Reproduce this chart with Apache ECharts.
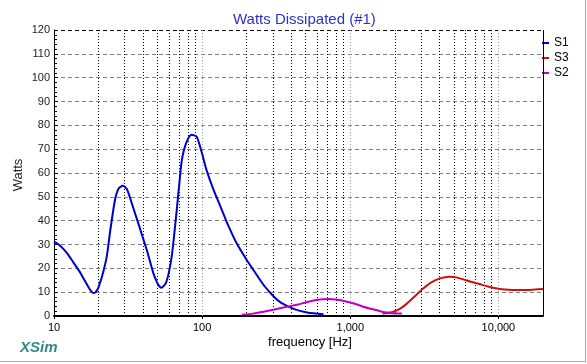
<!DOCTYPE html>
<html>
<head>
<meta charset="utf-8">
<script src="https://cdn.jsdelivr.net/npm/echarts@6/dist/echarts.min.js"></script>
<style>
html,body{margin:0;padding:0;background:#fff;}
#chart{width:587px;height:364px;}
</style>
</head>
<body>
<div id="chart"></div>
<script>
// ---- data ----
const s1Freq  = [10, 11, 12.2, 13.5, 15, 16, 17, 17.8, 18.4, 19.0, 19.7, 20.4, 21.5, 22.7, 24, 25.8, 27.3, 29.1, 31, 33.5, 42.3, 46.9, 49.5, 51.5, 52.8, 54.2, 55.6, 57.1, 59.5, 62.3, 64.5, 67.4, 70, 73, 78, 85, 91.9, 99, 107, 118, 133, 150, 171, 200, 222, 260, 303, 340, 415, 512, 660];
const s1Watts = [31.2, 29.5, 26.5, 22.5, 18.3, 15.2, 12.4, 10.4, 9.7, 9.9, 11.2, 13.7, 18.5, 24.9, 36, 48.7, 53.5, 54.6, 53.3, 47.3, 27.7, 17.9, 14.2, 12.4, 11.9, 12.2, 12.9, 14.0, 18, 24.9, 33, 44.5, 55, 65.5, 72.5, 76, 75.2, 69, 61.3, 53.8, 45.9, 38, 30.5, 23.5, 19.3, 13, 8.3, 5.6, 3.0, 1.5, 0.7];

const s3Freq  = [1650, 1960, 2200, 2420, 2750, 3120, 3500, 4020, 4690, 5200, 5760, 6500, 7440, 8500, 9600, 11000, 12400, 15000, 17500, 20000];
const s3Watts = [1.0, 1.8, 3.3, 5.3, 8.5, 11.6, 14.0, 15.8, 16.5, 16.2, 15.4, 14.4, 13.4, 12.4, 11.6, 11.1, 10.9, 10.9, 11.1, 11.3];

const s2Freq  = [185, 220, 260, 303, 360, 436, 500, 567, 650, 714, 800, 949, 1100, 1224, 1400, 1594, 1750, 1910, 2230];
const s2Watts = [0.5, 1.0, 1.8, 2.6, 3.7, 4.7, 5.7, 6.5, 7.0, 7.1, 6.9, 6.0, 4.9, 3.9, 2.9, 2.0, 1.5, 1.2, 1.1];

const seriesNames = ['S1', 'S3', 'S2'];
const seriesColors = ['#0000c8', '#d01010', '#c000c0'];

const xTickValues = [10, 100, 1000, 10000];
const decadeLines = [100, 1000, 10000];
const minorLines = [20,30,40,50,60,70,80,90, 200,300,400,500,600,700,800,900, 2000,3000,4000,5000,6000,7000,8000,9000, 20000];

const titleText = 'Watts Dissipated (#1)';
const yName = 'Watts';
const xName = 'frequency [Hz]';

// ---- chart ----
const FONT = 'Liberation Sans, Arial, sans-serif';
const pairs = (xs, ys) => xs.map((x, i) => [x, ys[i]]);

const gridColors = [];
for (let i = 0; i < 12; i++) gridColors.push('#808080');
gridColors.push('#000000');

const markData = [];
minorLines.forEach(v => markData.push({xAxis: v, lineStyle: {color: '#000', type: [1, 2], width: 1}}));
decadeLines.forEach(v => markData.push({xAxis: v, lineStyle: {color: '#9a9a9a', type: [1, 2], width: 1}}));

const lineSeries = (i, xs, ys) => ({
  name: seriesNames[i], type: 'line', data: pairs(xs, ys),
  smooth: 0.25, showSymbol: false,
  color: seriesColors[i], lineStyle: {width: 2, color: seriesColors[i]}, z: 5
});

const chart = echarts.init(document.getElementById('chart'), null, {renderer: 'canvas'});
chart.setOption({
  backgroundColor: '#ffffff',
  animation: false,
  title: {
    text: titleText,
    left: 228, top: 7,
    textStyle: {color: '#3030c8', fontSize: 15, fontWeight: 'normal', fontFamily: FONT}
  },
  legend: {
    data: seriesNames,
    orient: 'vertical',
    left: 542, top: 37,
    itemWidth: 7, itemHeight: 2, itemGap: 3, itemTextGap: 3,
    icon: 'rect',
    padding: 0,
    textStyle: {color: '#000', fontSize: 12, fontFamily: FONT}
  },
  grid: {left: 54, right: 44, top: 30, bottom: 48, containLabel: false},
  xAxis: {
    type: 'log', logBase: 10, min: 10, max: 20000,
    axisLine: {show: true, lineStyle: {color: '#000', width: 2}},
    axisTick: {show: true, length: 3, lineStyle: {color: '#000'}},
    axisLabel: {
      color: '#000', fontSize: 11, fontFamily: FONT, margin: 6,
      showMaxLabel: false,
      formatter: v => (xTickValues.indexOf(Math.round(v)) >= 0 ? Math.round(v).toLocaleString('en-US') : '')
    },
    splitLine: {show: false}
  },
  yAxis: {
    type: 'value', min: 0, max: 120, interval: 10,
    axisLine: {show: true, lineStyle: {color: '#000', width: 1}},
    axisTick: {show: true, inside: true, length: 4, lineStyle: {color: '#000'}},
    minorTick: {show: true, splitNumber: 5, length: 3, lineStyle: {color: '#000'}},
    axisLabel: {color: '#222', fontSize: 11, fontFamily: FONT, margin: 4},
    splitLine: {show: true, lineStyle: {color: gridColors, type: [4, 3], width: 1}}
  },
  series: [
    {
      name: '_grid', type: 'line', data: [], silent: true,
      markLine: {silent: true, symbol: 'none', label: {show: false}, animation: false, data: markData}
    },
    lineSeries(0, s1Freq, s1Watts),
    lineSeries(1, s3Freq, s3Watts),
    lineSeries(2, s2Freq, s2Watts)
  ],
  graphic: [
    {type: 'line', shape: {x1: 543.5, y1: 30, x2: 543.5, y2: 316}, style: {stroke: '#000', lineWidth: 1}, z: 10},
    {type: 'line', shape: {x1: 585.5, y1: 0, x2: 585.5, y2: 362}, style: {stroke: '#a8a8a8', lineWidth: 1}},
    {type: 'line', shape: {x1: 0, y1: 361.5, x2: 586, y2: 361.5}, style: {stroke: '#a8a8a8', lineWidth: 1}},
    {type: 'text', x: 18, y: 175, rotation: Math.PI / 2,
     style: {text: yName, fill: '#222', font: '13px ' + FONT, textAlign: 'center', textVerticalAlign: 'middle'}},
    {type: 'text', x: 310, y: 342,
     style: {text: xName, fill: '#000', font: '13px ' + FONT, textAlign: 'center', textVerticalAlign: 'middle'}},
    {type: 'text', x: 20, y: 348,
     style: {text: 'XSim', fill: '#2a8c8c', font: 'italic bold 15px ' + FONT, textAlign: 'left', textVerticalAlign: 'middle'}}
  ]
});
</script>
</body>
</html>
